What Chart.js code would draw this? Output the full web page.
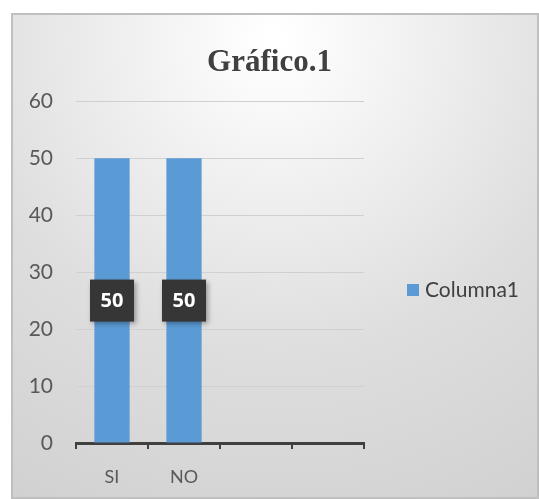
<!DOCTYPE html>
<html>
<head>
<meta charset="utf-8">
<script src="https://cdn.jsdelivr.net/npm/chart.js@4"></script>
<style>
html,body{margin:0;padding:0;background:#fff;}
#wrap{width:539px;height:499px;position:relative;}
</style>
</head>
<body>
<div id="wrap"><canvas id="c" width="539" height="499"></canvas></div>
<script>
const categories = ['SI', 'NO', '', ''];
const seriesName = 'Columna1';
const values = [50, 50, null, null];
const yTicks = [0, 10, 20, 30, 40, 50, 60];

const FONT = 'Lato, "Open Sans", sans-serif';

const bgPlugin = {
  id: 'bg',
  beforeDraw(chart) {
    const ctx = chart.ctx;
    ctx.save();
    ctx.fillStyle = '#ffffff';
    ctx.fillRect(0, 0, chart.width, chart.height);
    const g = ctx.createRadialGradient(275, 40, 10, 275, 40, 560);
    g.addColorStop(0, '#ffffff');
    g.addColorStop(0.55, '#dedede');
    g.addColorStop(1, '#cfcfcf');
    ctx.fillStyle = g;
    ctx.fillRect(11, 13, 528, 486);
    ctx.strokeStyle = '#bfbfbf';
    ctx.lineWidth = 2;
    ctx.strokeRect(12, 14, 526, 484);
    ctx.restore();
  }
};

const labelPlugin = {
  id: 'boxLabels',
  afterDatasetsDraw(chart) {
    const ctx = chart.ctx;
    const meta = chart.getDatasetMeta(0);
    const yScale = chart.scales.y;
    ctx.save();
    meta.data.forEach((bar, i) => {
      const v = values[i];
      if (v === null || v === undefined) return;
      const cx = bar.x;
      const cy = (bar.y + yScale.getPixelForValue(0)) / 2;
      const w = 44, h = 42;
      ctx.shadowColor = 'rgba(0,0,0,0.35)';
      ctx.shadowBlur = 5;
      ctx.shadowOffsetX = 2;
      ctx.shadowOffsetY = 2;
      ctx.fillStyle = '#363636';
      ctx.fillRect(cx - w / 2, cy - h / 2, w, h);
      ctx.shadowColor = 'transparent';
      ctx.fillStyle = '#ffffff';
      ctx.font = 'bold 20px "Open Sans", sans-serif';
      ctx.textAlign = 'center';
      ctx.textBaseline = 'middle';
      ctx.fillText(String(v), cx, cy + 1);
    });
    ctx.restore();
  }
};

// legend drawn to the right of the plot, using the dataset's label and colour
const legendPlugin = {
  id: 'sideLegend',
  afterDraw(chart) {
    const ctx = chart.ctx;
    const ds = chart.data.datasets[0];
    const x0 = chart.chartArea.right + 43;
    const cy = 290;
    ctx.save();
    ctx.fillStyle = ds.backgroundColor;
    ctx.fillRect(x0, cy - 6, 12, 12);
    ctx.fillStyle = '#404040';
    ctx.font = '21px ' + FONT;
    ctx.textAlign = 'left';
    ctx.textBaseline = 'middle';
    ctx.fillText(ds.label, x0 + 18, cy);
    ctx.restore();
  }
};

new Chart(document.getElementById('c'), {
  type: 'bar',
  data: {
    labels: categories,
    datasets: [{
      label: seriesName,
      data: values,
      backgroundColor: '#5b9bd5',
      borderWidth: 0,
      categoryPercentage: 0.98,
      barPercentage: 0.5
    }]
  },
  options: {
    responsive: false,
    animation: false,
    events: [],
    layout: { padding: { left: 0, right: 0, top: 0, bottom: 0 } },
    plugins: {
      title: {
        display: true,
        text: 'Gráfico.1',
        color: '#404040',
        font: { family: '"Liberation Serif", "Times New Roman", serif', size: 31, weight: 'bold' },
        padding: { top: 44, bottom: 20 }
      },
      legend: { display: false },
      tooltip: { enabled: false }
    },
    scales: {
      x: {
        offset: true,
        grid: {
          offset: true,
          drawOnChartArea: false,
          drawTicks: true,
          tickLength: 6,
          color: '#404040',
          lineWidth: 2
        },
        border: { display: true, color: '#404040', width: 3 },
        ticks: {
          color: '#595959',
          font: { family: FONT, size: 18 },
          padding: 17
        },
        afterFit(s) { s.height = 56; }
      },
      y: {
        min: 0,
        max: 60,
        afterBuildTicks(s) { s.ticks = yTicks.map(v => ({ value: v })); },
        grid: { color: '#d0d0d0', lineWidth: 1, drawTicks: false },
        border: { display: false },
        ticks: {
          color: '#595959',
          font: { family: FONT, size: 21 },
          padding: 23
        },
        afterFit(s) { s.width = 76; }
      },
      legendSpace: {
        type: 'linear',
        position: 'right',
        display: true,
        grid: { drawOnChartArea: false, drawTicks: false, display: false },
        border: { display: false },
        ticks: { display: false },
        afterFit(s) { s.width = 175; }
      }
    }
  },
  plugins: [bgPlugin, labelPlugin, legendPlugin]
});
</script>
</body>
</html>
